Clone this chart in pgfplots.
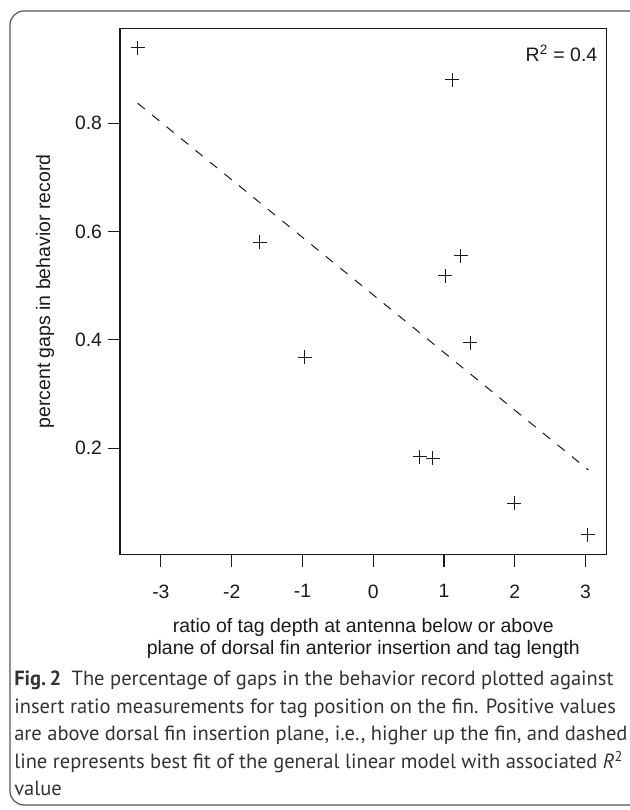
\documentclass[border=0pt]{standalone}
\usepackage{fontspec}
\setmainfont{Liberation Sans}
\newfontfamily\capfont{PT Sans}
\usepackage{pgfplots}
\pgfplotsset{compat=1.18}
\definecolor{ink}{HTML}{1A1A1A}
\definecolor{captext}{HTML}{333333}
\definecolor{framegray}{HTML}{555555}

\begin{document}
\begin{tikzpicture}
% axis box south-west corner sits at the origin; 1 px = 0.75pt
\begin{axis}[
  scale only axis, width=364.9pt, height=394.6pt,
  xmin=-3.578, xmax=3.297, ymin=0.004, ymax=0.975,
  axis line style={ink, line width=0.8pt},
  xtick={-3,-2,-1,0,1,2,3}, xticklabels={-3,-2,-1,0,1,2,3},
  ytick={0.2,0.4,0.6,0.8}, yticklabels={0.2,0.4,0.6,0.8},
  tick pos=left, tick align=outside, major tick length=9pt,
  tick style={ink, line width=0.8pt},
  ticklabel style={font=\fontsize{14.5}{17}\selectfont, text=ink},
  xticklabel style={yshift=-10pt},
  yticklabel style={xshift=-1pt},
  xlabel={ratio of tag depth at antenna below or above\\plane of dorsal fin anterior insertion and tag length},
  xlabel style={align=center, at={(axis description cs:0.5,-0.16)}, anchor=center,
    font=\fontsize{14.6}{16.5}\selectfont, text=ink},
  ylabel={percent gaps in behavior record},
  ylabel style={at={(axis description cs:-0.154,0.5)}, anchor=center,
    font=\fontsize{14.6}{17}\selectfont, text=ink},
  clip=false,
]
\addplot[only marks, mark=+, mark size=5.25pt, ink, line width=0.75pt]
  coordinates {(-3.33,0.939) (1.12,0.880) (-1.60,0.580) (1.24,0.555)
    (1.02,0.518) (-0.965,0.368) (1.37,0.395) (0.66,0.184) (0.84,0.182)
    (1.99,0.099) (3.035,0.040)};
\addplot[ink, line width=0.75pt, dash pattern=on 7pt off 7pt]
  coordinates {(-3.33,0.837) (3.04,0.160)};
\node[anchor=east, font=\fontsize{14.6}{17}\selectfont, text=ink, inner sep=0pt]
  at (axis description cs:0.9815,0.953) {R\textsuperscript{2} = 0.4};
\end{axis}

\begin{scope}[x=0.75pt, y=0.75pt, shift={(-120,-255.5)}]
% outer frame, right side runs off the page
\draw[framegray, line width=0.9pt] (640,799) -- (24,799)
  arc[start angle=90,end angle=180,radius=14] -- (10,19)
  arc[start angle=180,end angle=270,radius=14] -- (640,5);
% caption
\begin{scope}[every node/.style={anchor=base west, inner sep=0pt, text=captext,
    font=\capfont\fontsize{15.4}{20}\selectfont}]
\node at (14,125) {\textbf{Fig.\,2}\enspace The percentage of gaps in the behavior record plotted against};
\node at (14,97) {insert ratio measurements for tag position on the fin. Positive values};
\node at (14,69.5) {are above dorsal fin insertion plane, i.e., higher up the fin, and dashed};
\node at (14,42) {line represents best fit of the general linear model with associated \textit{R}\textsuperscript{2}};
\node at (14,14.5) {value};
\end{scope}
\pgfresetboundingbox
\path[use as bounding box] (0,0) rectangle (630,810);
\end{scope}
\end{tikzpicture}
\end{document}
